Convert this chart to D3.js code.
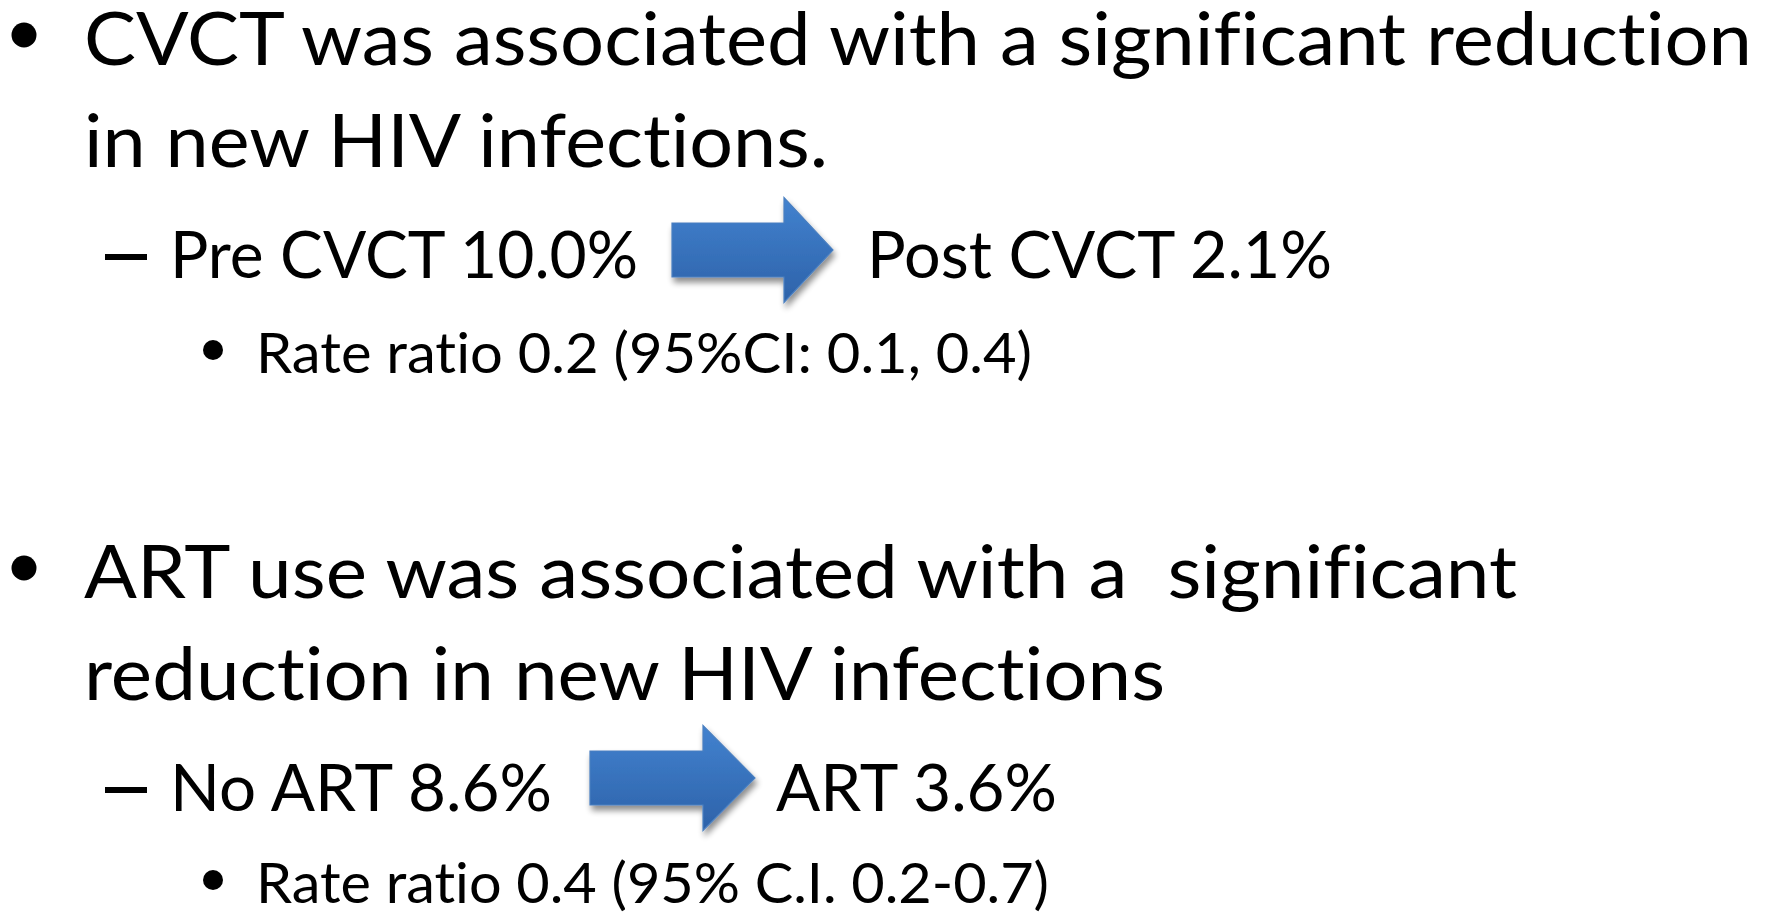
<!DOCTYPE html>
<html>
<head>
<meta charset="utf-8">
<script src="https://cdn.jsdelivr.net/npm/d3@7"></script>
<style>
  html, body { margin: 0; padding: 0; background: #ffffff; }
  svg { display: block; }
  text { font-family: Lato, "Open Sans", sans-serif; fill: #000; white-space: pre;
         font-variant-ligatures: none; font-feature-settings: "liga" 0, "clig" 0, "dlig" 0; }
</style>
</head>
<body>
<svg id="chart" width="1777" height="914"></svg>
<script>
// ---- content (data) ----
const headlines = [
  ["CVCT was associated with a significant reduction", "in new HIV infections."],
  ["ART use was associated with a  significant", "reduction in new HIV infections"]
];
const beforeLabels = ["Pre CVCT", "No ART"];
const beforeValues = ["10.0%", "8.6%"];
const afterLabels = ["Post CVCT", "ART"];
const afterValues = ["2.1%", "3.6%"];
const rateLines = ["Rate ratio 0.2 (95%CI: 0.1, 0.4)", "Rate ratio 0.4 (95% C.I. 0.2-0.7)"];

// ---- layout ----
const svg = d3.select("#chart");
const defs = svg.append("defs");
const grad = defs.append("linearGradient").attr("id", "arrowGrad")
  .attr("x1", 0).attr("y1", 0).attr("x2", 0).attr("y2", 1);
grad.append("stop").attr("offset", "0%").attr("stop-color", "#4282cf");
grad.append("stop").attr("offset", "100%").attr("stop-color", "#2d62a9");
const flt = defs.append("filter").attr("id", "shadow")
  .attr("x", "-20%").attr("y", "-20%").attr("width", "150%").attr("height", "150%");
flt.append("feGaussianBlur").attr("in", "SourceAlpha").attr("stdDeviation", 3).attr("result", "b");
flt.append("feOffset").attr("in", "b").attr("dx", 2).attr("dy", 5).attr("result", "o");
flt.append("feComponentTransfer").attr("in", "o").attr("result", "s")
  .append("feFuncA").attr("type", "linear").attr("slope", 0.45);
const fm = flt.append("feMerge");
fm.append("feMergeNode").attr("in", "s");
fm.append("feMergeNode").attr("in", "SourceGraphic");

const blocks = [
  { y1: 65, y2: 167, ySub: 278, yRate: 373,
    w1: 1668, w2: 744, wBefore: 468, xAfter: 867, wAfter: 465, wRate: 776,
    arrowX: 672, arrowBodyEnd: 784, arrowTip: 833, arrowY: 250 },
  { y1: 598, y2: 700, ySub: 811, yRate: 903,
    w1: 1433, w2: 1081, wBefore: 382, xAfter: 776, wAfter: 281, wRate: 793,
    arrowX: 590, arrowBodyEnd: 703, arrowTip: 755, arrowY: 778 }
];

const L1 = 74, L2 = 65, L3 = 56;

blocks.forEach((b, i) => {
  const g = svg.append("g");
  // level-1 bullet
  g.append("circle").attr("cx", 24).attr("cy", b.y1 - 30).attr("r", 12.5).attr("fill", "#000");
  g.append("text").attr("x", 84).attr("y", b.y1).attr("font-size", L1)
    .attr("textLength", b.w1).attr("lengthAdjust", "spacingAndGlyphs").text(headlines[i][0]);
  g.append("text").attr("x", 84).attr("y", b.y2).attr("font-size", L1)
    .attr("textLength", b.w2).attr("lengthAdjust", "spacingAndGlyphs").text(headlines[i][1]);

  // level-2 dash
  g.append("rect").attr("x", 105).attr("y", b.ySub - 24).attr("width", 42).attr("height", 6).attr("fill", "#000");
  g.append("text").attr("x", 170).attr("y", b.ySub).attr("font-size", L2)
    .attr("textLength", b.wBefore).attr("lengthAdjust", "spacingAndGlyphs")
    .text(beforeLabels[i] + " " + beforeValues[i]);

  // arrow
  const bh = 27, hh = 52.5;
  const pts = [
    [b.arrowX, b.arrowY - bh], [b.arrowBodyEnd, b.arrowY - bh], [b.arrowBodyEnd, b.arrowY - hh],
    [b.arrowTip, b.arrowY], [b.arrowBodyEnd, b.arrowY + hh], [b.arrowBodyEnd, b.arrowY + bh],
    [b.arrowX, b.arrowY + bh]
  ];
  g.append("path").attr("d", d3.line()(pts) + "Z")
    .attr("fill", "url(#arrowGrad)").attr("stroke", "#4a7fc0").attr("stroke-width", 1.2)
    .attr("filter", "url(#shadow)");

  g.append("text").attr("x", b.xAfter).attr("y", b.ySub).attr("font-size", L2)
    .attr("textLength", b.wAfter).attr("lengthAdjust", "spacingAndGlyphs")
    .text(afterLabels[i] + " " + afterValues[i]);

  // level-3 bullet
  g.append("circle").attr("cx", 213).attr("cy", b.yRate - 23).attr("r", 10).attr("fill", "#000");
  g.append("text").attr("x", 256).attr("y", b.yRate).attr("font-size", L3)
    .attr("textLength", b.wRate).attr("lengthAdjust", "spacingAndGlyphs").text(rateLines[i]);
});
</script>
</body>
</html>
